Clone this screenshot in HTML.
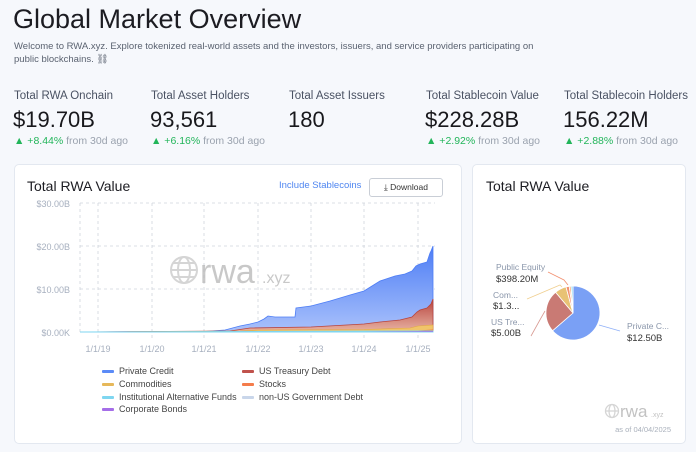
<!DOCTYPE html>
<html><head><meta charset="utf-8"><style>
body{margin:0;width:696px;height:452px;background:#f6f8fc;font-family:"Liberation Sans",sans-serif;position:relative;overflow:hidden;color:#1c1c22}
.a{position:absolute;white-space:nowrap}
.card{position:absolute;background:#fff;border:1px solid #e3e8f0;border-radius:5px}
.lab{font-size:11.5px;color:#4a5263}
.val{font-size:22px;color:#18181c}
.ch{font-size:10.5px;color:#9aa2ae}
.ch b{color:#22b55a;font-weight:normal}
.lg{font-size:9px;color:#444}
.lg i{display:inline-block;width:12px;height:3px;margin-right:5px;vertical-align:middle;border-radius:1px}
</style></head><body>
<div class="a" style="left:13px;top:4px;font-size:27px;color:#1c1c22">Global Market Overview</div>
<div class="a" style="left:14px;top:40px;font-size:9.5px;color:#5a6270;line-height:13px">Welcome to RWA.xyz. Explore tokenized real-world assets and the investors, issuers, and service providers participating on<br>public blockchains. ⛓</div>

<div class="a lab" style="left:14px;top:90px">Total RWA Onchain</div>
<div class="a val" style="left:13px;top:107px">$19.70B</div>
<div class="a ch" style="left:14px;top:135px"><b>▲ +8.44%</b> from 30d ago</div>
<div class="a lab" style="left:151px;top:90px">Total Asset Holders</div>
<div class="a val" style="left:150px;top:107px">93,561</div>
<div class="a ch" style="left:151px;top:135px"><b>▲ +6.16%</b> from 30d ago</div>
<div class="a lab" style="left:289px;top:90px">Total Asset Issuers</div>
<div class="a val" style="left:288px;top:107px">180</div>
<div class="a lab" style="left:426px;top:90px">Total Stablecoin Value</div>
<div class="a val" style="left:425px;top:107px">$228.28B</div>
<div class="a ch" style="left:426px;top:135px"><b>▲ +2.92%</b> from 30d ago</div>
<div class="a lab" style="left:564px;top:90px">Total Stablecoin Holders</div>
<div class="a val" style="left:563px;top:107px">156.22M</div>
<div class="a ch" style="left:564px;top:135px"><b>▲ +2.88%</b> from 30d ago</div>

<div class="card" style="left:14px;top:164px;width:446px;height:278px"></div>
<div class="a" style="left:27px;top:178px;font-size:14px">Total RWA Value</div>
<div class="a" style="left:279px;top:180px;font-size:9.5px;color:#4f86f0">Include Stablecoins</div>
<div class="a" style="left:369px;top:178px;width:72px;height:17px;border:1px solid #c9ced6;border-radius:3px;font-size:8.5px;color:#333;text-align:center;line-height:17px">⤓ Download</div>

<svg class="a" style="left:0;top:0" width="696" height="452">
<g font-family="Liberation Sans" font-size="9" fill="#a7b0bf" text-anchor="end">
<text x="70" y="207">$30.00B</text><text x="70" y="250">$20.00B</text><text x="70" y="293">$10.00B</text><text x="70" y="336">$0.00K</text>
</g>
<g stroke="#cfd5dd" stroke-dasharray="3,3" stroke-width="0.8">
<line x1="80" y1="203" x2="435" y2="203"/><line x1="80" y1="246" x2="435" y2="246"/><line x1="80" y1="289" x2="435" y2="289"/>
<line x1="80" y1="203" x2="80" y2="332"/>
<line x1="98" y1="203" x2="98" y2="340"/><line x1="152" y1="203" x2="152" y2="340"/><line x1="204" y1="203" x2="204" y2="340"/><line x1="258" y1="203" x2="258" y2="340"/><line x1="311" y1="203" x2="311" y2="340"/><line x1="364" y1="203" x2="364" y2="340"/><line x1="418" y1="203" x2="418" y2="340"/>
</g>
<g font-family="Liberation Sans" font-size="9" fill="#a7b0bf" text-anchor="middle">
<text x="98" y="352">1/1/19</text><text x="152" y="352">1/1/20</text><text x="204" y="352">1/1/21</text><text x="258" y="352">1/1/22</text><text x="311" y="352">1/1/23</text><text x="364" y="352">1/1/24</text><text x="418" y="352">1/1/25</text>
</g>
<g opacity="0.35" stroke="#888" fill="none" stroke-width="2"><circle cx="184" cy="270" r="13"/><ellipse cx="184" cy="270" rx="6" ry="13"/><line x1="171" y1="270" x2="197" y2="270"/><line x1="173" y1="263" x2="195" y2="263"/><line x1="173" y1="277" x2="195" y2="277"/></g>
<text x="200" y="283" font-family="Liberation Sans" font-size="34" fill="#bbb" opacity="0.8">rwa</text>
<text x="262" y="283" font-family="Liberation Sans" font-size="16" fill="#bbb" opacity="0.8">.xyz</text>
<defs><linearGradient id="gb" x1="0" y1="0" x2="0" y2="1"><stop offset="0" stop-color="#4d7df5"/><stop offset="1" stop-color="#a9c1fb"/></linearGradient>
<linearGradient id="gr" x1="0" y1="0" x2="0" y2="1"><stop offset="0" stop-color="#b8443e"/><stop offset="1" stop-color="#e8b4a4"/></linearGradient></defs>
<path d="M80,332 L204,331.5 L225,330 L240,326 L250,324 L258,322 L264,319 L268,316 L275,317 L295,317 L296,308 L311,306 L330,301 L350,295 L364,291 L380,281 L395,276 L405,274 L412,271 L416,266 L420,264 L427,262 L430,253 L431,251 L433,246 L433,332 Z" fill="url(#gb)" stroke="#4d7df5" stroke-width="0.8"/>
<path d="M80,332 L230,331 L250,328 L311,327 L364,324 L380,322 L400,320 L412,317 L417,312 L420,310 L427,308 L431,304 L433,299 L433,332 Z" fill="url(#gr)" stroke="#b8443e" stroke-width="0.8"/>
<path d="M80,332 L240,331 L258,330 L364,329.5 L410,328 L418,326 L433,325 L433,332 Z" fill="#f0c46a" stroke="#e2a843" stroke-width="0.6"/>
<path d="M380,332 L418,330.5 L433,329.5 L433,332 Z" fill="#f07a45"/>
<path d="M80,332 L433,331 L433,332 Z" fill="#7fd6f0" stroke="#7fd6f0"/>
<path d="M364,332 L433,331.2 L433,332 Z" fill="#a06ee8"/>
</svg>

<div class="a lg" style="left:102px;top:366px"><i style="background:#5b8bf7"></i>Private Credit</div>
<div class="a lg" style="left:242px;top:366px"><i style="background:#c0524c"></i>US Treasury Debt</div>
<div class="a lg" style="left:102px;top:379px"><i style="background:#e6b85a"></i>Commodities</div>
<div class="a lg" style="left:242px;top:379px"><i style="background:#f47c4b"></i>Stocks</div>
<div class="a lg" style="left:102px;top:392px"><i style="background:#7fd6f0"></i>Institutional Alternative Funds</div>
<div class="a lg" style="left:242px;top:392px"><i style="background:#c9d6ea"></i>non-US Government Debt</div>
<div class="a lg" style="left:102px;top:404px"><i style="background:#a56ee8"></i>Corporate Bonds</div>

<div class="card" style="left:472px;top:164px;width:212px;height:278px"></div>
<div class="a" style="left:486px;top:178px;font-size:14px">Total RWA Value</div>
<svg class="a" style="left:0;top:0" width="696" height="452">
<g stroke="#fff" stroke-width="0.8">
<path d="M573,313 L573,286 A27,27 0 1 1 552.6,330.7 Z" fill="#7aa0f5"/>
<path d="M573,313 L552.6,330.7 A27,27 0 0 1 555.6,292.3 Z" fill="#c97a74"/>
<path d="M573,313 L555.6,292.3 A27,27 0 0 1 566,286.9 Z" fill="#e8c274"/>
<path d="M573,313 L566,286.9 A27,27 0 0 1 569.2,286.3 Z" fill="#f29070"/>
<path d="M573,313 L569.2,286.3 A27,27 0 0 1 571.1,286.1 Z" fill="#f7b58a"/>
<path d="M573,313 L571.1,286.1 A27,27 0 0 1 573,286 Z" fill="#8fd8f2"/>
</g>
<g fill="none" stroke-width="0.8">
<polyline points="599,325 620,331" stroke="#8fb0f8"/>
<polyline points="545,311 541,318 531,336" stroke="#d89a92"/>
<polyline points="562,287 560,285 527,299" stroke="#f0cf90"/>
<polyline points="568,285 564,280 548,272" stroke="#f29070"/>
</g>
<g font-family="Liberation Sans" font-size="8.5" fill="#8a96aa"><text x="496" y="270">Public Equity</text><text x="493" y="298">Com...</text><text x="491" y="325">US Tre...</text><text x="627" y="329">Private C...</text></g>
<g font-family="Liberation Sans" font-size="9.5" fill="#333"><text x="496" y="282">$398.20M</text><text x="493" y="309">$1.3...</text><text x="491" y="336">$5.00B</text><text x="627" y="341">$12.50B</text></g>
<g opacity="0.4" stroke="#999" fill="none" stroke-width="1.3"><circle cx="612" cy="411" r="6.5"/><ellipse cx="612" cy="411" rx="3" ry="6.5"/><line x1="605.5" y1="411" x2="618.5" y2="411"/></g>
<text x="620" y="417" font-family="Liberation Sans" font-size="17" fill="#c2c2c2">rwa</text>
<text x="651" y="417" font-family="Liberation Sans" font-size="7" fill="#c2c2c2">.xyz</text>
<text x="671" y="432" text-anchor="end" font-family="Liberation Sans" font-size="7.5" fill="#aab1bc">as of 04/04/2025</text>
</svg>
</body></html>
